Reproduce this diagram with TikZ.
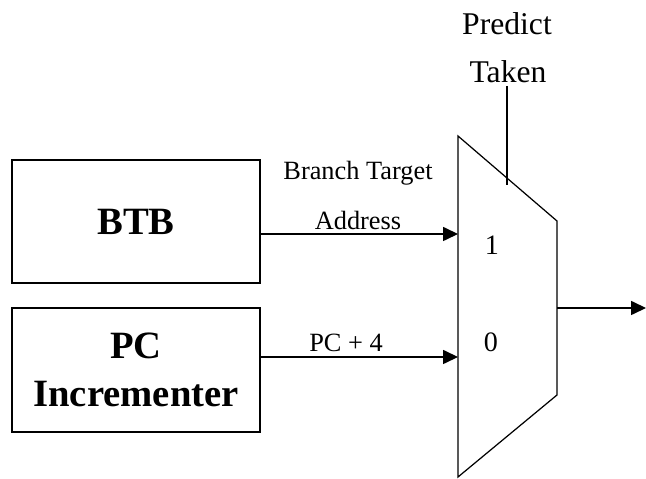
\documentclass[tikz,border=0pt]{standalone}
\usepackage{fontspec}
\setmainfont{Liberation Serif}
\usetikzlibrary{arrows.meta}

\tikzset{
	unit/.style={draw, line width=1pt, minimum width=4.96cm, minimum height=2.46cm, align=center, font=\fontsize{22}{27}\selectfont\bfseries},
	sig/.style={-{Triangle[length=8.5pt, width=8pt]}, line width=0.7pt},
	lbl/.style={anchor=base, inner sep=0pt, font=\fontsize{15}{18}\selectfont}
}

\begin{document}
\begin{tikzpicture}[x=0.02cm, y=-0.02cm, line width=0.7pt]
	\useasboundingbox (0, 0) rectangle (646, 479);

		\node[unit] (btb) at (136, 221.5) {BTB};
		\node[unit, minimum height=2.48cm] (pcinc) at (136, 370) {PC\\Incrementer};

		\coordinate (mtl) at (458, 136);
		\coordinate (mtr) at (557, 221);
		\coordinate (mbr) at (557, 395);
		\coordinate (mbl) at (458, 477);
		\draw (mtl) -- (mtr) -- (mbr) -- (mbl) -- cycle;

		\coordinate (in1) at (458, 234);
		\coordinate (in0) at (458, 357);
		\coordinate (out) at (557, 308);
		\coordinate (outend) at (646, 308);
		\coordinate (seltop) at (507, 86);
		\coordinate (selbot) at (507, 185);

		\draw[sig] (btb.east |- in1) -- (in1);
		\draw[sig] (pcinc.east |- in0) -- (in0);
		\draw[sig] (out) -- (outend);
		\draw (seltop) -- (selbot);

		\node[lbl] (bta1) at (358, 180) {Branch Target};
		\node[lbl] (bta2) at (358, 230) {Address};
		\node[lbl] (pc4) at (346, 352) {PC + 4};
		\node[lbl, font=\fontsize{18}{22}\selectfont] (pred1) at (507, 35) {Predict};
		\node[lbl, font=\fontsize{18}{22}\selectfont] (pred2) at (508, 83) {Taken};
		\node[lbl, font=\fontsize{16}{19}\selectfont] (one) at (492, 255) {1};
		\node[lbl, font=\fontsize{16}{19}\selectfont] (zero) at (491, 352) {0};

\end{tikzpicture}
\end{document}
